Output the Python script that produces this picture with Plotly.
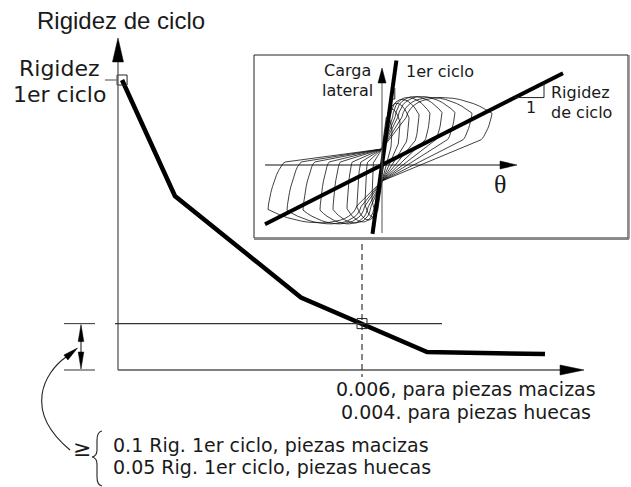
import plotly.graph_objects as go

W, H = 631, 487

# Cycle stiffness (normalised by the first-cycle stiffness) against drift
drift = [0.0001, 0.0014, 0.0045, 0.006, 0.0076, 0.0105]
stiffness = [1.0, 0.60, 0.25, 0.16, 0.062, 0.055]
drift_limit = 0.006
stiffness_limit = 0.16
x_axis_end = 0.01146
y_axis_end = 1.145

# Inset: hysteresis cycles (peak drift, maximum lateral load; inset units)
pos_drift = [10, 18, 27, 37, 48, 60, 73, 90, 110]
pos_load = [50, 58, 64, 68, 70, 71, 71, 70, 70]
neg_drift = [10, 17, 25, 35, 49, 62, 79, 95, 114]
neg_load = [48, 54, 57, 59, 60, 61, 61, 61, 60]
pinch_load = 16
tip_ratio = 0.74  # load at peak drift relative to the cycle maximum
k_first = 7.25    # first-cycle stiffness
k_cycle = 0.507   # secant stiffness of the last cycle
first_line_x = [-9.5, 14.4]
cycle_line_x = [-117, 181]
theta_axis = [-117, 135]
load_axis = [-68, 97]

TXT = "#1a1a1a"
AX = "#555555"

# ---- main frame: pixel origin and scales ----
OX, OY = 118, 370
SX = 244 / drift_limit
SY = 290 / stiffness[0]


def X(px):
    return (px - OX) / SX


def Y(py):
    return (OY - py) / SY


def path_px(cmds):
    """Build an SVG path (main data coords) from pixel tuples."""
    out = []
    for c in cmds:
        if isinstance(c, str):
            out.append(c)
        else:
            out.append(f"{X(c[0]):.7f},{Y(c[1]):.5f}")
    return " ".join(out)


def tri_px(tip, direction, length, hw):
    ux, uy = direction
    n = (ux * ux + uy * uy) ** 0.5
    ux, uy = ux / n, uy / n
    bx, by = tip[0] - ux * length, tip[1] - uy * length
    px_, py_ = -uy, ux
    return path_px(["M", (bx + px_ * hw, by + py_ * hw), "L", tip, "L",
                    (bx - px_ * hw, by - py_ * hw), "Z"])


def to_px(d, s):
    return OX + d * SX, OY - s * SY


shapes = []


def line(x0, y0, x1, y1, color=AX, width=1.3, dash=None, xref="x", yref="y"):
    shapes.append(dict(type="line", x0=x0, y0=y0, x1=x1, y1=y1, xref=xref, yref=yref,
                       line=dict(color=color, width=width, dash=dash)))


def fill_path(p, xref="x", yref="y", color="black"):
    shapes.append(dict(type="path", path=p, xref=xref, yref=yref,
                       fillcolor=color, line=dict(color=color, width=0.5)))


# axes with arrowheads
yt = to_px(0, y_axis_end)
xt = to_px(x_axis_end, 0)
line(0, 0, 0, Y(yt[1] + 22))
fill_path(tri_px(yt, (0, -1), 24, 5.5))
line(0, 0, X(xt[0] - 22), 0)
fill_path(tri_px(xt, (1, 0), 24, 5))

# first-cycle stiffness tick and the limit lines
line(X(105), stiffness[0], 0, stiffness[0], color="#666666", width=1.2)
line(X(115), stiffness_limit, X(442), stiffness_limit, color="#333333", width=1.1)
line(drift_limit, Y(244), drift_limit, Y(377), color="#222222", width=1.1, dash="6px,4px")

# dimension between zero and the minimum stiffness
line(X(64), 0, X(95), 0, color="#444444", width=1.1)
line(X(64), stiffness_limit, X(95), stiffness_limit, color="#444444", width=1.1)
lim_px = to_px(0, stiffness_limit)[1]
line(X(81), Y(lim_px + 14), X(81), Y(OY - 14), color="#222222", width=1.1)
fill_path(tri_px((81, lim_px + 1), (0, -1), 17, 2.8))
fill_path(tri_px((81, OY - 1), (0, 1), 17, 2.8))

# curved leader arrow from the note to the dimension
shapes.append(dict(type="path", xref="x", yref="y",
                   path=path_px(["M", (70, 450), "C", (22, 410), (45, 372), (66, 357)]),
                   line=dict(color="#222222", width=1.1)))
fill_path(tri_px((77.5, 348), (0.77, -0.63), 15, 3.2))

# brace in front of the minimum-stiffness note
shapes.append(dict(type="path", xref="x", yref="y",
                   path=path_px(["M", (102, 431), "Q", (97, 432), (97, 440), "L", (97, 450),
                                 "Q", (97, 456), (92, 457), "Q", (97, 458), (97, 464),
                                 "L", (97, 477), "Q", (97, 485), (102, 486)]),
                   line=dict(color="#222222", width=1.1)))

# inset frame
IX0, IX1, IY0, IY1 = 254, 628, 55, 238
IOX, IOY = 382, 165
shapes.append(dict(type="rect", xref="paper", yref="paper",
                   x0=IX0 / W, x1=IX1 / W, y0=1 - IY1 / H, y1=1 - IY0 / H,
                   line=dict(color="#222222", width=1), fillcolor="rgba(0,0,0,0)"))
line(IX0 / W, 1 - (IY1 + 1) / H, (IX1 + 1) / W, 1 - (IY1 + 1) / H,
     color="#888888", width=2, xref="paper", yref="paper")
line((IX1 + 1) / W, 1 - (IY1 + 1) / H, (IX1 + 1) / W, 1 - IY0 / H,
     color="#888888", width=1.5, xref="paper", yref="paper")

# inset axes
line(theta_axis[0], 0, theta_axis[1] - 14, 0, color="#111111", width=1, xref="x2", yref="y2")
shapes.append(dict(type="path", xref="x2", yref="y2", fillcolor="black",
                   line=dict(color="black", width=0.5),
                   path=f"M {theta_axis[1]-17},4 L {theta_axis[1]},0 L {theta_axis[1]-17},-4 Z"))
line(0, load_axis[0], 0, load_axis[1] - 12, color="#555555", width=1, xref="x2", yref="y2")
shapes.append(dict(type="path", xref="x2", yref="y2", fillcolor="black",
                   line=dict(color="black", width=0.5),
                   path=f"M -4,{load_axis[1]-15} L 0,{load_axis[1]} L 4,{load_axis[1]-15} Z"))

# slope triangles
ya = k_cycle * 133
line(133, ya, 162, ya, color="#222222", width=1, xref="x2", yref="y2")
line(162, ya, 162, k_cycle * 162, color="#222222", width=1, xref="x2", yref="y2")
line(9.1, 66, 12.8, 66, color="#222222", width=1, xref="x2", yref="y2")
line(12.8, 66, 12.8, 77, color="#222222", width=1, xref="x2", yref="y2")


def bez(p0, p1, p2, p3, n=16):
    out = []
    for i in range(1, n + 1):
        t = i / n
        a, b, c, e = (1 - t) ** 3, 3 * (1 - t) ** 2 * t, 3 * (1 - t) * t ** 2, t ** 3
        out.append((a * p0[0] + b * p1[0] + c * p2[0] + e * p3[0],
                    a * p0[1] + b * p1[1] + c * p2[1] + e * p3[1]))
    return out


def half_cycle(d, P, sign, knee_d, knee_P):
    """Half of a pinched loop: reloading through the pinch point, the arc over the
    cycle maximum down to the peak drift, unloading, then the pinched path back."""
    p0 = pinch_load
    A = (0.22 * d, 0.68 * P)
    T = (d, tip_ratio * P)
    K = (knee_d * d, knee_P * P)
    pts = [(0, p0), A]
    pts += bez(A, (A[0] + 0.06 * d, 1.06 * P), (0.72 * d, 1.04 * P), T)
    pts += bez(T, (0.99 * d, T[1] - 0.35 * (T[1] - K[1])), (K[0] + 0.4 * (d - K[0]), K[1] + 0.05 * P),
               K, n=10)
    pts.append((0, -p0))
    return [(sign * x, sign * y) for x, y in pts]


lx, ly = [], []
for dp, Pp, dn, Pn in zip(pos_drift, pos_load, neg_drift, neg_load):
    pts = half_cycle(dp, Pp, 1, 0.9, 0.36) + half_cycle(dn, Pn, -1, 0.85, -0.05)[1:]
    lx += [p[0] for p in pts] + [None]
    ly += [p[1] for p in pts] + [None]

fig = go.Figure()
fig.add_trace(go.Scatter(x=lx, y=ly, mode="lines", xaxis="x2", yaxis="y2",
                         line=dict(color="#111111", width=0.8), hoverinfo="skip"))
fig.add_trace(go.Scatter(x=first_line_x, y=[k_first * v for v in first_line_x], mode="lines",
                         xaxis="x2", yaxis="y2", line=dict(color="black", width=4)))
fig.add_trace(go.Scatter(x=cycle_line_x, y=[k_cycle * v for v in cycle_line_x], mode="lines",
                         xaxis="x2", yaxis="y2", line=dict(color="black", width=4)))

fig.add_trace(go.Scatter(x=drift, y=stiffness, mode="lines",
                         line=dict(color="black", width=4.5)))
fig.add_trace(go.Scatter(x=[drift[0], drift_limit], y=[stiffness[0], stiffness_limit], mode="markers",
                         marker=dict(symbol="square-open", size=10, color="#222222",
                                     line=dict(width=1))))

ann = []


def text(s, x, y, size, xanchor="center", family="DejaVu Sans", xref="x", yref="y"):
    ann.append(dict(text=s, x=x, y=y, xref=xref, yref=yref, showarrow=False,
                    xanchor=xanchor, yanchor="middle",
                    font=dict(family=family, size=size, color=TXT)))


text("Rigidez de ciclo", X(121), Y(20), 24, family="Liberation Sans, Arial")
text("Rigidez", X(59), Y(68), 22)
text("1er ciclo", X(59), Y(94), 22)
text("0.006, para piezas macizas", X(466), Y(389), 19)
text("0.004. para piezas huecas", X(466), Y(412), 19)
text("≥", X(82), Y(448), 22)
text("0.1 Rig. 1er ciclo, piezas macizas", X(111), Y(445), 19, xanchor="left")
text("0.05 Rig. 1er ciclo, piezas huecas", X(111), Y(467), 19, xanchor="left")

text("Carga", -35, 94, 16, xref="x2", yref="y2")
text("lateral", -35, 74, 16, xref="x2", yref="y2")
text("1er ciclo", 22, 93, 16, xanchor="left", xref="x2", yref="y2")
text("Rigidez", 167, 72, 16, xanchor="left", xref="x2", yref="y2")
text("de ciclo", 167, 52, 16, xanchor="left", xref="x2", yref="y2")
text("1", 149, ya - 10, 16, xref="x2", yref="y2")
text("θ", 118, -20, 26, family="Liberation Serif, Times New Roman", xref="x2", yref="y2")

fig.update_layout(
    width=W, height=H, margin=dict(l=0, r=0, t=0, b=0),
    paper_bgcolor="white", plot_bgcolor="rgba(0,0,0,0)", showlegend=False,
    xaxis=dict(domain=[0, 1], range=[X(0), X(W)], visible=False),
    yaxis=dict(domain=[0, 1], range=[Y(H), Y(0)], visible=False),
    xaxis2=dict(domain=[IX0 / W, IX1 / W], range=[IX0 - IOX, IX1 - IOX], visible=False, anchor="y2"),
    yaxis2=dict(domain=[1 - IY1 / H, 1 - IY0 / H], range=[IOY - IY1, IOY - IY0], visible=False,
                anchor="x2"),
    shapes=shapes, annotations=ann,
)

fig.write_html("out.html")
